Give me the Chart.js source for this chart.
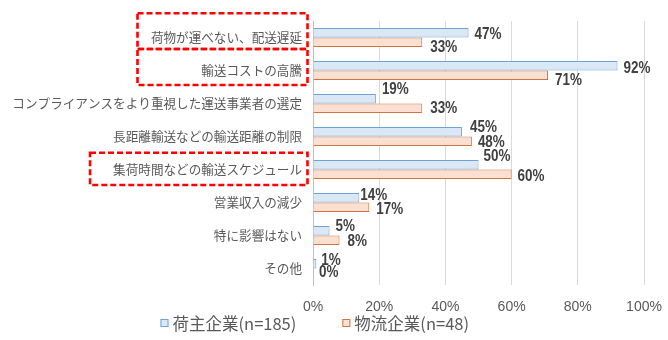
<!DOCTYPE html>
<html>
<head>
<meta charset="utf-8">
<script src="https://cdn.jsdelivr.net/npm/chart.js@4.4.1/dist/chart.umd.min.js"></script>
<style>
  html, body { margin: 0; padding: 0; background: #ffffff; }
  #wrap { width: 668px; height: 340px; }
</style>
</head>
<body>
<div id="wrap"><canvas id="c" width="668" height="340"></canvas></div>
<script>
// ---- data ----
const categories = [
  "荷物が運べない、配送遅延",
  "輸送コストの高騰",
  "コンプライアンスをより重視した運送事業者の選定",
  "長距離輸送などの輸送距離の制限",
  "集荷時間などの輸送スケジュール",
  "営業収入の減少",
  "特に影響はない",
  "その他"
];
const seriesNames = ["荷主企業(n=185)", "物流企業(n=48)"];
const shipperValues = [47, 92, 19, 45, 50, 14, 5, 1];
const logisticsValues = [33, 71, 33, 48, 60, 17, 8, 0];
const xTickValues = [0, 20, 40, 60, 80, 100];

// label nudges (px) to mimic the hand-placed labels in the source
const shipperLabelNudge = [[6,1],[6,2],[6,-10],[8,-5],[5,-9],[1,-3],[6,-5],[5,-4]];
const logisticsLabelNudge = [[8,5],[7,5],[8,0],[6,1],[6,2],[7,2],[8,1],[6,-1]];
// highlighted category boxes: [category index, top offset, bottom offset, left x]
const highlightBoxes = [[0,-24.2,11.5,137.5],[1,-21.5,14.5,137.5],[4,-16.8,15.5,90]];

const dataLabelPlugin = {
  id: 'dataLabels',
  afterDatasetsDraw(chart) {
    const ctx = chart.ctx;
    ctx.save();
    ctx.font = 'bold 16px "Liberation Sans", Arial, sans-serif';
    ctx.fillStyle = '#404040';
    ctx.textAlign = 'left';
    ctx.textBaseline = 'middle';
    const nudges = [shipperLabelNudge, logisticsLabelNudge];
    chart.data.datasets.forEach((ds, di) => {
      const meta = chart.getDatasetMeta(di);
      meta.data.forEach((bar, i) => {
        const n = nudges[di][i];
        const t = ds.data[i] + '%';
        ctx.save();
        ctx.translate(bar.x + n[0], bar.y + n[1] + 0.5);
        ctx.scale(0.84, 1);
        ctx.fillText(t, 0, 0);
        ctx.restore();
      });
    });
    ctx.restore();
  }
};

const boxesPlugin = {
  id: 'boxes',
  afterDraw(chart) {
    const ctx = chart.ctx;
    const y = chart.scales.y;
    const right = chart.chartArea.left - 5.5;
    ctx.save();
    ctx.strokeStyle = '#FF0000';
    ctx.lineWidth = 2.6;
    ctx.setLineDash([6, 3]);
    highlightBoxes.forEach(b => {
      const c = y.getPixelForValue(b[0]);
      ctx.strokeRect(b[3], c + b[1], right - b[3], b[2] - b[1]);
    });
    ctx.restore();
  }
};

const legendPlugin = {
  id: 'customLegend',
  afterDraw(chart) {
    const ctx = chart.ctx;
    ctx.save();
    ctx.font = '16.5px "Noto Sans CJK JP", sans-serif';
    ctx.textBaseline = 'middle';
    ctx.textAlign = 'left';
    const yc = 323.5;
    let x = 160.5;
    chart.data.datasets.forEach((ds, i) => {
      ctx.fillStyle = ds.backgroundColor;
      ctx.strokeStyle = ds.borderColor;
      ctx.lineWidth = 1;
      ctx.fillRect(x, yc - 4.5, 8, 8);
      ctx.strokeRect(x + 0.5, yc - 4, 7, 7);
      ctx.fillStyle = '#595959';
      ctx.fillText(ds.label, x + 12, yc);
      x += 12 + ctx.measureText(ds.label).width + 46;
    });
    ctx.restore();
  }
};

new Chart(document.getElementById('c'), {
  type: 'bar',
  data: {
    labels: categories,
    datasets: [
      { label: seriesNames[0], data: shipperValues, backgroundColor: '#DAE7F5', borderColor: '#6FA3D8', borderWidth: 1 },
      { label: seriesNames[1], data: logisticsValues, backgroundColor: '#FBE0D2', borderColor: '#D2743F', borderWidth: 1 }
    ]
  },
  options: {
    indexAxis: 'y',
    responsive: false,
    animation: false,
    devicePixelRatio: 1,
    layout: { padding: { top: 21, right: 24, bottom: 0, left: 0 } },
    datasets: { bar: { categoryPercentage: 0.57, barPercentage: 1.0 } },
    plugins: { legend: { display: false }, tooltip: { enabled: false } },
    scales: {
      x: {
        min: 0, max: 100,
        afterBuildTicks(scale) { scale.ticks = xTickValues.map(v => ({ value: v })); },
        afterFit(scale) { scale.height = 55; scale.paddingRight = 0; scale.paddingLeft = 0; },
        ticks: {
          callback: v => v + '%',
          color: '#595959',
          font: { family: '"Liberation Sans", Arial, sans-serif', size: 14 },
          padding: 14,
          maxRotation: 0
        },
        grid: { color: '#D9D9D9', drawTicks: false, lineWidth: 1 },
        border: { display: false }
      },
      y: {
        afterFit(scale) { scale.width = 313; },
        ticks: {
          color: '#595959',
          font: { family: '"Noto Sans CJK JP", sans-serif', size: 12.6 },
          padding: 11,
          autoSkip: false
        },
        grid: { display: false, drawTicks: false },
        border: { display: true, color: '#BFBFBF', width: 1 }
      }
    }
  },
  plugins: [dataLabelPlugin, boxesPlugin, legendPlugin]
});
</script>
</body>
</html>
